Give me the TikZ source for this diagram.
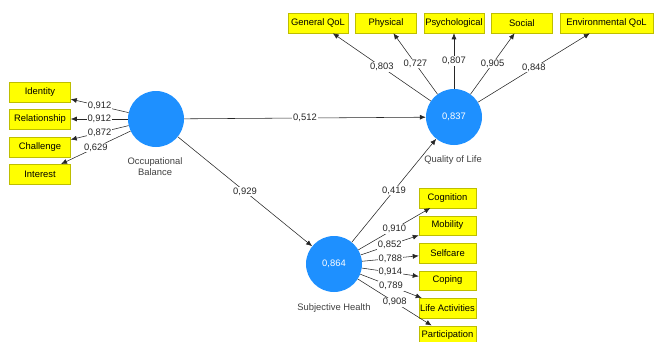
\documentclass[tikz,border=0pt]{standalone}
\usepackage{fontspec}
\setmainfont{Liberation Sans}
\usetikzlibrary{arrows.meta}
\definecolor{lvblue}{RGB}{30,144,255}
\definecolor{boxyellow}{RGB}{255,255,0}
\definecolor{boxborder}{RGB}{190,190,0}
\begin{document}
\begin{tikzpicture}[x=1pt,y=-1pt,
  every node/.style={font=\fontsize{9.4}{11}\selectfont},
  lv/.style={circle,fill=lvblue,draw=none,minimum size=56pt,inner sep=0pt,text=white},
  lvtext/.style={align=center,text=black!75,inner sep=0pt},
  ind/.style={rectangle,fill=boxyellow,draw=boxborder,line width=0.5pt,minimum height=19.5pt,inner sep=0pt,text=black},
  conn/.style={draw=black!85,line width=0.55pt,-{Latex[length=6pt,width=5pt]}},
  lbl/.style={fill=white,inner sep=0.8pt,text=black!85}]
\useasboundingbox (0,0) rectangle (654,341);
% latent variables
\node[lv] (ob) at (156,119) {};
\node[lvtext] (obt) at (155,167) {Occupational\\[0pt]Balance};
\node[lv] (ql) at (454,117) {0,837};
\node[lvtext] (qlt) at (453,160) {Quality of Life};
\node[lv] (sh) at (334,264) {0,864};
\node[lvtext] (sht) at (334,308) {Subjective Health};
% left indicators
\node[ind,minimum width=61pt] (id) at (40,92) {Identity};
\node[ind,minimum width=61pt] (re) at (40,119) {Relationship};
\node[ind,minimum width=61pt] (ch) at (40,147) {Challenge};
\node[ind,minimum width=61pt] (in) at (40,174) {Interest};
% top indicators
\node[ind,minimum width=60pt,minimum height=20pt] (gq) at (318,23) {General QoL};
\node[ind,minimum width=61pt,minimum height=20pt] (ph) at (386,23) {Physical};
\node[ind,minimum width=60pt,minimum height=20pt] (ps) at (454,23) {Psychological};
\node[ind,minimum width=61pt,minimum height=20pt] (so) at (522,23) {Social};
\node[ind,minimum width=93pt,minimum height=20pt] (en) at (606.5,23) {Environmental QoL};
% right indicators
\node[ind,minimum width=57pt] (co) at (447.5,198) {Cognition};
\node[ind,minimum width=57pt] (mo) at (447.5,225.5) {Mobility};
\node[ind,minimum width=57pt] (se) at (447.5,253) {Selfcare};
\node[ind,minimum width=57pt] (cp) at (447.5,280.5) {Coping};
\node[ind,minimum width=57pt] (la) at (447.5,308) {Life Activities};
\node[ind,minimum width=57pt] (pa) at (447.5,335.5) {Participation};
% structural paths
\draw[conn] (ob) -- node[lbl]{0,512} (ql);
\draw[conn] (ob) -- node[lbl]{0,929} (sh);
\draw[conn] (sh) -- node[lbl]{0,419} (ql);
% occupational balance loadings
\draw[conn] (ob) -- node[lbl]{0,912} (id);
\draw[conn] (ob) -- node[lbl]{0,912} (re);
\draw[conn] (ob) -- node[lbl]{0,872} (ch);
\draw[conn] (ob) -- node[lbl]{0,629} (in);
% quality of life loadings
\draw[conn] (ql) -- node[lbl]{0,803} (gq);
\draw[conn] (ql) -- node[lbl]{0,727} (ph);
\draw[conn] (ql) -- node[lbl]{0,807} (ps);
\draw[conn] (ql) -- node[lbl]{0,905} (so);
\draw[conn] (ql) -- node[lbl]{0,848} (en);
% subjective health loadings
\draw[conn] (sh) -- node[lbl]{0,910} (co);
\draw[conn] (sh) -- node[lbl]{0,852} (mo);
\draw[conn] (sh) -- node[lbl]{0,788} (se);
\draw[conn] (sh) -- node[lbl]{0,914} (cp);
\draw[conn] (sh) -- node[lbl]{0,789} (la);
\draw[conn] (sh) -- node[lbl]{0,908} (pa);
\end{tikzpicture}
\end{document}
